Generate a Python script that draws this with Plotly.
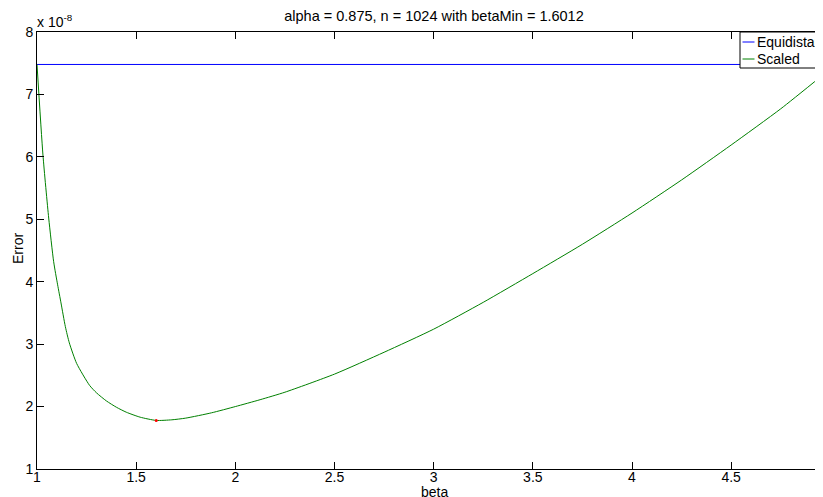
import plotly.graph_objects as go

# ---- data (error values in units of 1e-8) ----
beta_scaled = [1.0, 1.03, 1.059, 1.084, 1.104, 1.121, 1.143, 1.163, 1.2, 1.265,
               1.3, 1.35, 1.4, 1.45, 1.52, 1.6012, 1.68, 1.75, 1.88, 2.0,
               2.125, 2.25, 2.5, 2.75, 3.0, 3.25, 3.5, 3.75, 4.0, 4.25,
               4.5, 4.75, 4.958]
error_scaled = [7.48, 6.03, 5.02, 4.32, 3.95, 3.66, 3.28, 3.02, 2.69, 2.34,
                2.22, 2.09, 1.99, 1.91, 1.83, 1.778, 1.788, 1.815, 1.90, 2.00,
                2.11, 2.23, 2.52, 2.87, 3.24, 3.67, 4.13, 4.60, 5.10, 5.63,
                6.19, 6.77, 7.30]
beta_equi = [1.0, 4.958]
error_equi = [7.48, 7.48]
beta_min = [1.6012]
error_min = [1.778]
x_ticks = [1, 1.5, 2, 2.5, 3, 3.5, 4, 4.5]
x_ticktext = ["1", "1.5", "2", "2.5", "3", "3.5", "4", "4.5"]
y_ticks = [1, 2, 3, 4, 5, 6, 7, 8]
y_ticktext = ["1", "2", "3", "4", "5", "6", "7", "8"]
legend_names = ["Equidistant", "Scaled"]
SCALE = 1e-8

FONT = "Liberation Sans, Arial, Helvetica, sans-serif"
BLUE = "#0000ff"
GREEN = "#008000"

fig = go.Figure()
fig.add_trace(go.Scatter(x=beta_equi, y=[v * SCALE for v in error_equi], mode="lines",
                         line=dict(color=BLUE, width=1), name=legend_names[0], showlegend=False))
fig.add_trace(go.Scatter(x=beta_scaled, y=[v * SCALE for v in error_scaled], mode="lines",
                         line=dict(color=GREEN, width=1, shape="spline", smoothing=0.6),
                         name=legend_names[1], showlegend=False))
fig.add_trace(go.Scatter(x=beta_min, y=[v * SCALE for v in error_min], mode="markers",
                         marker=dict(color="red", size=3), showlegend=False))

# page body has an 8px margin; figure sized so the page matches 823x497
OFF = 8
W, H = 815, 489
L, R, T, B = 29, 1, 24, 28
pw = W - L - R
ph = H - T - B

def px(page_x):
    return (page_x - OFF - L) / pw

def py(page_y):
    return (H - B - (page_y - OFF)) / ph

axis_common = dict(showline=True, linecolor="black", linewidth=1, mirror="ticks",
                   ticks="inside", ticklen=7, tickcolor="black", tickwidth=1,
                   showgrid=False, zeroline=False,
                   tickfont=dict(family=FONT, size=14, color="black"))

fig.update_xaxes(range=[1, 4.958], tickvals=x_ticks, ticktext=x_ticktext,
                 ticklabelstandoff=-5, **axis_common)
fig.update_yaxes(range=[1 * SCALE, 8 * SCALE], tickvals=[v * SCALE for v in y_ticks],
                 ticktext=y_ticktext, **axis_common)

shapes = [
    dict(type="rect", xref="paper", yref="paper", x0=px(740), x1=px(900), y0=py(68), y1=1,
         line=dict(color="black", width=1), fillcolor="white", layer="above"),
    dict(type="line", xref="paper", yref="paper", x0=px(742.5), x1=px(754.5), y0=py(42), y1=py(42),
         line=dict(color=BLUE, width=1), layer="above"),
    dict(type="line", xref="paper", yref="paper", x0=px(742.5), x1=px(754.5), y0=py(59), y1=py(59),
         line=dict(color=GREEN, width=1), layer="above"),
]

annotations = [
    dict(text=legend_names[0], xref="paper", yref="paper", x=px(755), y=py(42), xanchor="left",
         yanchor="middle", showarrow=False, font=dict(family=FONT, size=14, color="black")),
    dict(text=legend_names[1], xref="paper", yref="paper", x=px(755), y=py(59), xanchor="left",
         yanchor="middle", showarrow=False, font=dict(family=FONT, size=14, color="black")),
    dict(text="x 10<sup>-8</sup>", xref="paper", yref="paper", x=0, y=1, xanchor="left",
         yanchor="bottom", showarrow=False, xshift=-2, font=dict(family=FONT, size=14, color="black")),
    dict(text="beta", xref="paper", yref="paper", x=px(434), y=py(492), xanchor="center",
         yanchor="middle", showarrow=False, font=dict(family=FONT, size=14, color="black")),
    dict(text="Error", xref="paper", yref="paper", x=px(18), y=py(249), xanchor="center",
         yanchor="middle", textangle=-90, showarrow=False, font=dict(family=FONT, size=14, color="black")),
]

fig.update_layout(
    width=W, height=H,
    margin=dict(l=L, r=R, t=T, b=B, autoexpand=False),
    paper_bgcolor="white", plot_bgcolor="white",
    title=dict(text="alpha = 0.875, n = 1024 with betaMin = 1.6012", x=px(434), xref="paper",
               xanchor="center", y=(H - (16 - OFF)) / H, yref="container", yanchor="middle",
               font=dict(family=FONT, size=14.5, color="black")),
    shapes=shapes, annotations=annotations, showlegend=False,
)

fig.write_html("out.html")
